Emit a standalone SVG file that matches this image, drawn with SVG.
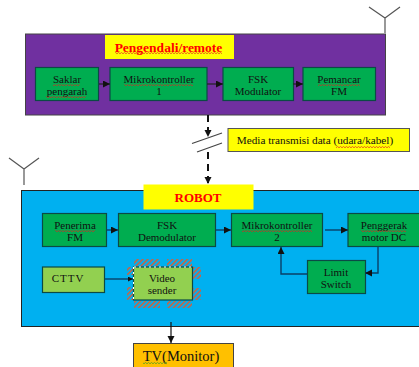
<svg xmlns="http://www.w3.org/2000/svg" width="419" height="367" viewBox="0 0 419 367">
<defs>
<marker id="a" markerUnits="userSpaceOnUse" markerWidth="8" markerHeight="8" refX="7" refY="3.500" orient="auto"><path d="M0 0L7 3.500L0 7Z" fill="#111"/></marker>
<marker id="s" markerUnits="userSpaceOnUse" markerWidth="6" markerHeight="6" refX="5" refY="2.500" orient="auto"><path d="M0 0L5 2.500L0 5Z" fill="#111"/></marker>
<pattern id="h" width="3.500" height="3.500" patternUnits="userSpaceOnUse" patternTransform="rotate(-45)"><rect width="3.500" height="1.500" fill="#d0603c"/></pattern>
<pattern id="zr" width="3" height="2" patternUnits="userSpaceOnUse"><path d="M0 1.800L1.500 .4L3 1.800" fill="none" stroke="#e02020" stroke-width=".7"/></pattern>
<pattern id="zg" width="3" height="2" patternUnits="userSpaceOnUse"><path d="M0 1.800L1.500 .4L3 1.800" fill="none" stroke="#3a9a20" stroke-width=".7"/></pattern>
</defs>
<style>
text{font-family:"Liberation Serif",serif;fill:#111;font-size:11px;text-anchor:middle}
.b{stroke:#0b4a45;stroke-width:1.2}
.g{fill:#00ad50}
.l{fill:#92d050}
.c{fill:none;stroke:#222;stroke-width:1.2}
.d{fill:none;stroke:#0a3f66;stroke-width:1.400}
.w{fill:url(#zr)}
.ant{fill:none;stroke:#555;stroke-width:1.200}
</style>
<path class="ant" d="M385 33V18M369 7L385 18L400 7"/>
<path class="ant" d="M24 185V169M9 158L24 169L39 158"/>
<rect x="25.500" y="34" width="360" height="81" fill="#7030a0" stroke="#444" stroke-width="1"/>
<rect x="21.500" y="190.500" width="400" height="136" fill="#00b0f0" stroke="#222" stroke-width="1"/>
<g id="title-remote"><rect x="105" y="35" width="129" height="24" fill="#ff0"/><text x="168.500" y="52" style="font-size:13.500px;font-weight:bold;fill:#f00">Pengendali/remote</text><rect class="w" x="115" y="52" width="107" height="2"/></g>
<g id="title-robot"><rect x="143.500" y="184.500" width="110" height="25" fill="#ff0"/><text x="198" y="202" style="font-size:13px;font-weight:bold;fill:#f00">ROBOT</text></g>
<g id="saklar"><rect class="b g" x="35.500" y="67.500" width="63" height="33"/><text x="67" y="83">Saklar</text><text x="67" y="95">pengarah</text><rect class="w" x="53" y="84" width="27" height="2"/><rect class="w" x="46" y="96" width="40" height="2"/></g>
<g id="mk1"><rect class="b g" x="110" y="67.500" width="97" height="33"/><text x="159" y="83">Mikrokontroller</text><text x="159" y="95">1</text><rect class="w" x="124" y="84" width="69" height="2"/></g>
<g id="fsk-mod"><rect class="b g" x="223" y="67.500" width="70.500" height="33"/><text x="258" y="83">FSK</text><text x="258" y="95">Modulator</text></g>
<g id="pemancar"><rect class="b g" x="303" y="67.500" width="72.500" height="33"/><text x="339" y="83">Pemancar</text><text x="339" y="95">FM</text><rect class="w" x="318" y="84" width="42" height="2"/></g>
<g id="media"><rect x="228" y="128.500" width="181.500" height="23" fill="#ff0" stroke="#555" stroke-width="1"/><text x="315" y="144" style="font-size:11.200px">Media transmisi data (udara/kabel)</text><rect class="w" x="336" y="146" width="54" height="2"/></g>
<g id="penerima"><rect class="b g" x="42.500" y="213.500" width="64" height="33"/><text x="75" y="229">Penerima</text><text x="75" y="241">FM</text><rect class="w" x="55" y="230" width="40" height="2"/></g>
<g id="fsk-demod"><rect class="b g" x="118.500" y="213.500" width="97" height="33"/><text x="167" y="229">FSK</text><text x="167" y="241">Demodulator</text></g>
<g id="mk2"><rect class="b g" x="231.500" y="213.500" width="91" height="33"/><text x="277" y="229">Mikrokontroller</text><text x="277" y="241">2</text><rect class="w" x="242" y="230" width="70" height="2"/></g>
<g id="penggerak"><rect class="b g" x="348" y="213.500" width="72" height="33"/><text x="384" y="229">Penggerak</text><text x="384" y="241">motor DC</text><rect class="w" x="361" y="230" width="45" height="2"/></g>
<g id="limit"><rect class="b g" x="307.500" y="260.500" width="58" height="33"/><text x="336" y="276">Limit</text><text x="336" y="288">Switch</text></g>
<g id="cttv"><rect class="b l" x="42.500" y="267" width="62" height="25.500"/><text x="68" y="282" style="letter-spacing:1px">CTTV</text></g>
<g id="video">
<path fill="url(#h)" d="M134 259h26v7h-26zM167 259h25v7h-25zM134 301h26v7h-26zM167 301h25v7h-25zM127 267h6v8h-6zM127 287h6v13h-6zM193 267h8v12h-8zM193 288h8v12h-8z"/>
<rect class="b l" x="133.500" y="267" width="59" height="33"/>
<path d="M134 267H192M133.500 267V300" fill="none" stroke="#fff" stroke-width="1" stroke-dasharray="2 3"/>
<text x="162" y="282">Video</text><text x="162" y="294">sender</text></g>
<g id="tv"><rect x="133.500" y="343.500" width="100" height="30" fill="#ffc000" stroke="#444" stroke-width="1"/><text x="181" y="361" style="font-size:14.500px">TV(Monitor)</text><rect x="143" y="362" width="24" height="2" fill="url(#zg)"/></g>
<g id="connectors">
<path class="c" d="M99 84H110" marker-end="url(#a)"/>
<path class="c" d="M207 84H223" marker-end="url(#a)"/>
<path class="c" d="M293 84H303" marker-end="url(#a)"/>
<path class="d" d="M107 230H118" marker-end="url(#a)"/>
<path class="d" d="M216 230H231" marker-end="url(#a)"/>
<path class="d" d="M325 230H348" marker-end="url(#a)"/>
<path class="d" d="M378 247V273H365" marker-end="url(#a)"/>
<path class="d" d="M307 274H281V247" marker-end="url(#a)"/>
<path class="d" d="M105 279H133" marker-end="url(#s)"/>
<path d="M171 322V343" stroke="#111" stroke-width="1.200" fill="none" marker-end="url(#a)"/>
<path d="M208 115V137" stroke="#111" stroke-width="2" stroke-dasharray="7 5" fill="none" marker-end="url(#a)"/>
<path d="M208 152V184" stroke="#111" stroke-width="2" stroke-dasharray="7 5" fill="none" marker-end="url(#a)"/>
<path d="M192 143.500L222 133M197 152L222 143" stroke="#444" stroke-width="1.200" fill="none"/>
</g>
</svg>
